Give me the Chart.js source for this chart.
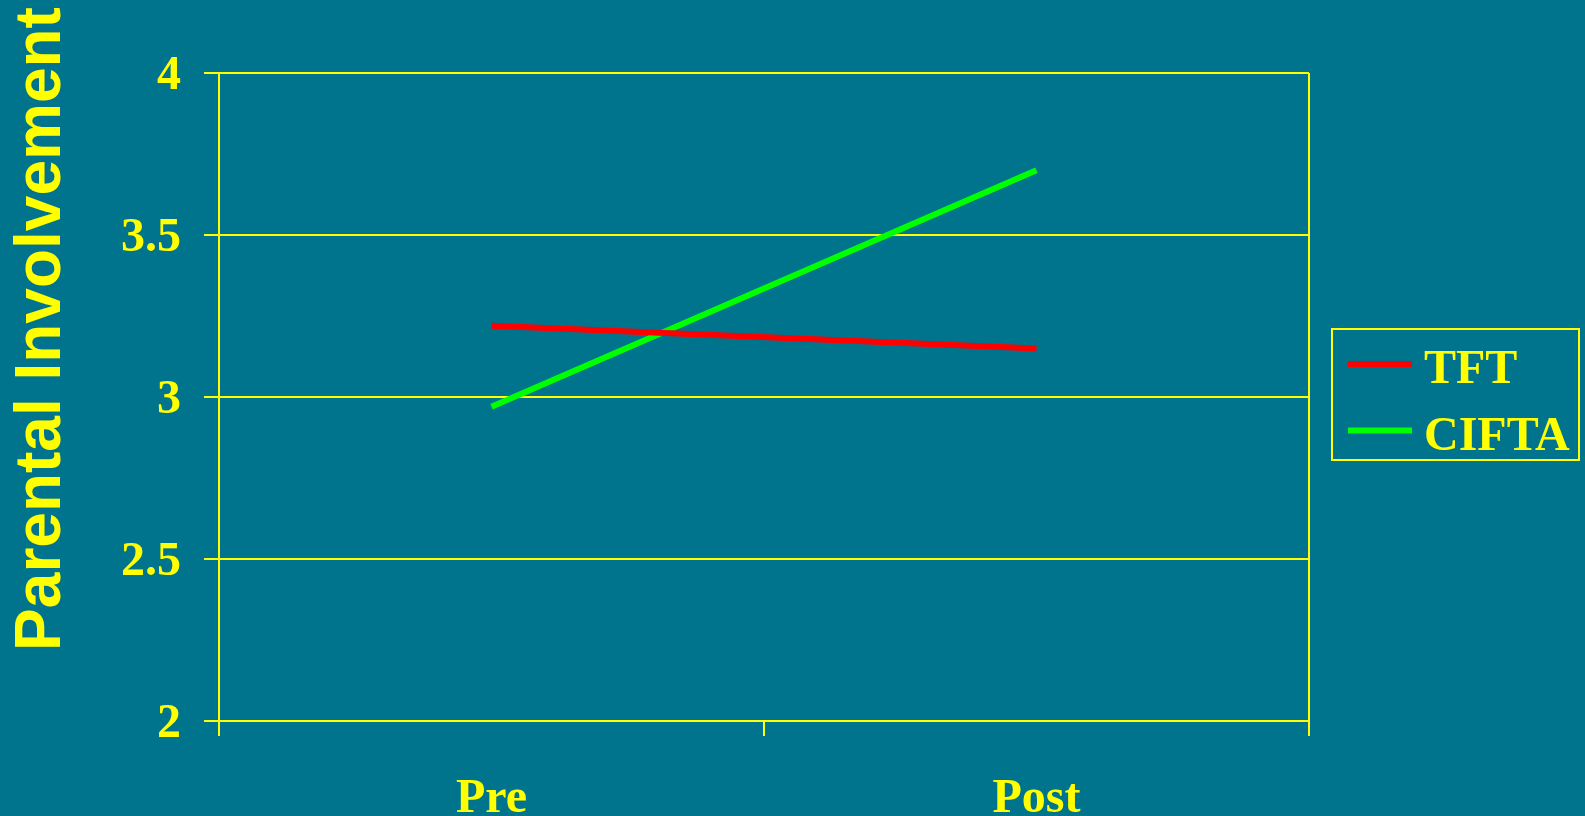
<!DOCTYPE html>
<html>
<head>
<meta charset="utf-8">
<title>Parental Involvement</title>
<script src="https://cdn.jsdelivr.net/npm/chart.js@4"></script>
<style>
  html, body { margin: 0; padding: 0; background: #00748C; overflow: hidden; }
  #wrap { position: relative; width: 1585px; height: 816px; }
</style>
</head>
<body>
<div id="wrap"><canvas id="chart"></canvas></div>
<script>
// Data
const categories = ['Pre', 'Post'];
const seriesNames = ['TFT', 'CIFTA'];
const tftValues = [3.22, 3.15];
const ciftaValues = [2.97, 3.70];
const yTickLabels = ['2', '2.5', '3', '3.5', '4'];
const axisTitle = 'Parental Involvement';

// Colours
const BG = '#00748C';
const YELLOW = '#FFFF00';
const RED = '#FF0000';
const GREEN = '#00FF00';
const SERIF = '"Liberation Serif", "Times New Roman", serif';
const SANS = '"Liberation Sans", Arial, sans-serif';

// Paints the whole canvas background
const backdrop = {
  id: 'backdrop',
  beforeDraw(chart) {
    const { ctx, width, height } = chart;
    ctx.save();
    ctx.fillStyle = BG;
    ctx.fillRect(0, 0, width, height);
    ctx.restore();
  }
};

// Rotated value-axis title on the far left
const sideTitle = {
  id: 'sideTitle',
  afterDraw(chart, args, o) {
    const ctx = chart.ctx;
    ctx.save();
    ctx.translate(o.x, o.y);
    ctx.rotate(-Math.PI / 2);
    ctx.font = 'bold ' + o.size + 'px ' + SANS;
    ctx.fillStyle = YELLOW;
    ctx.textAlign = 'center';
    ctx.textBaseline = 'alphabetic';
    ctx.fillText(o.text, 0, 0);
    ctx.restore();
  }
};

// Boxed legend with line samples
const framedLegend = {
  id: 'framedLegend',
  afterDraw(chart, args, o) {
    const ctx = chart.ctx;
    ctx.save();
    ctx.strokeStyle = YELLOW;
    ctx.lineWidth = 2;
    ctx.strokeRect(o.left, o.top, o.width, o.height);
    ctx.font = 'bold 48px ' + SERIF;
    ctx.textAlign = 'left';
    ctx.textBaseline = 'alphabetic';
    chart.data.datasets.forEach((ds, i) => {
      const y = o.firstRow + i * o.rowGap;
      ctx.strokeStyle = ds.borderColor;
      ctx.lineWidth = 6;
      ctx.lineCap = 'butt';
      ctx.beginPath();
      ctx.moveTo(o.sampleX, y);
      ctx.lineTo(o.sampleX + o.sampleW, y);
      ctx.stroke();
      ctx.fillStyle = YELLOW;
      ctx.fillText(ds.label, o.textX, y + o.baselineShift);
    });
    ctx.restore();
  }
};

new Chart(document.getElementById('chart'), {
  type: 'line',
  data: {
    labels: categories,
    datasets: [
      {
        label: seriesNames[0],
        data: tftValues,
        borderColor: RED,
        backgroundColor: RED,
        borderWidth: 6,
        borderCapStyle: 'butt',
        pointRadius: 0,
        tension: 0,
        fill: false
      },
      {
        label: seriesNames[1],
        data: ciftaValues,
        borderColor: GREEN,
        backgroundColor: GREEN,
        borderWidth: 6,
        borderCapStyle: 'butt',
        pointRadius: 0,
        tension: 0,
        fill: false
      }
    ]
  },
  options: {
    responsive: true,
    maintainAspectRatio: false,
    animation: false,
    devicePixelRatio: 1,
    layout: { padding: { left: 0, top: 73, right: 276, bottom: 0 } },
    scales: {
      x: {
        type: 'category',
        offset: true,
        grid: {
          offset: true,
          drawOnChartArea: true,
          color: (c) => (c.index === 1 ? 'rgba(0,0,0,0)' : YELLOW),
          tickColor: YELLOW,
          lineWidth: 2,
          tickLength: 15
        },
        border: { display: true, color: YELLOW, width: 2 },
        ticks: {
          color: YELLOW,
          font: { family: SERIF, size: 48, weight: 'bold' },
          padding: 35,
          maxRotation: 0,
          autoSkip: false
        },
        afterFit(scale) { scale.height = 95; }
      },
      y: {
        min: 2,
        max: 4,
        ticks: {
          stepSize: 0.5,
          color: YELLOW,
          font: { family: SERIF, size: 48, weight: 'bold' },
          padding: 23,
          labelOffset: 4,
          callback: (value, index) => yTickLabels[index]
        },
        grid: {
          color: YELLOW,
          tickColor: YELLOW,
          lineWidth: 2,
          tickLength: 15
        },
        border: { display: true, color: YELLOW, width: 2 },
        afterFit(scale) { scale.width = 219; }
      }
    },
    plugins: {
      legend: { display: false },
      tooltip: { enabled: false },
      sideTitle: { text: axisTitle, x: 60, y: 329, size: 64 },
      framedLegend: {
        left: 1332, top: 329, width: 247, height: 131,
        sampleX: 1348, sampleW: 64,
        textX: 1424, firstRow: 364, rowGap: 66.5, baselineShift: 19
      }
    }
  },
  plugins: [backdrop, sideTitle, framedLegend]
});
</script>
</body>
</html>
